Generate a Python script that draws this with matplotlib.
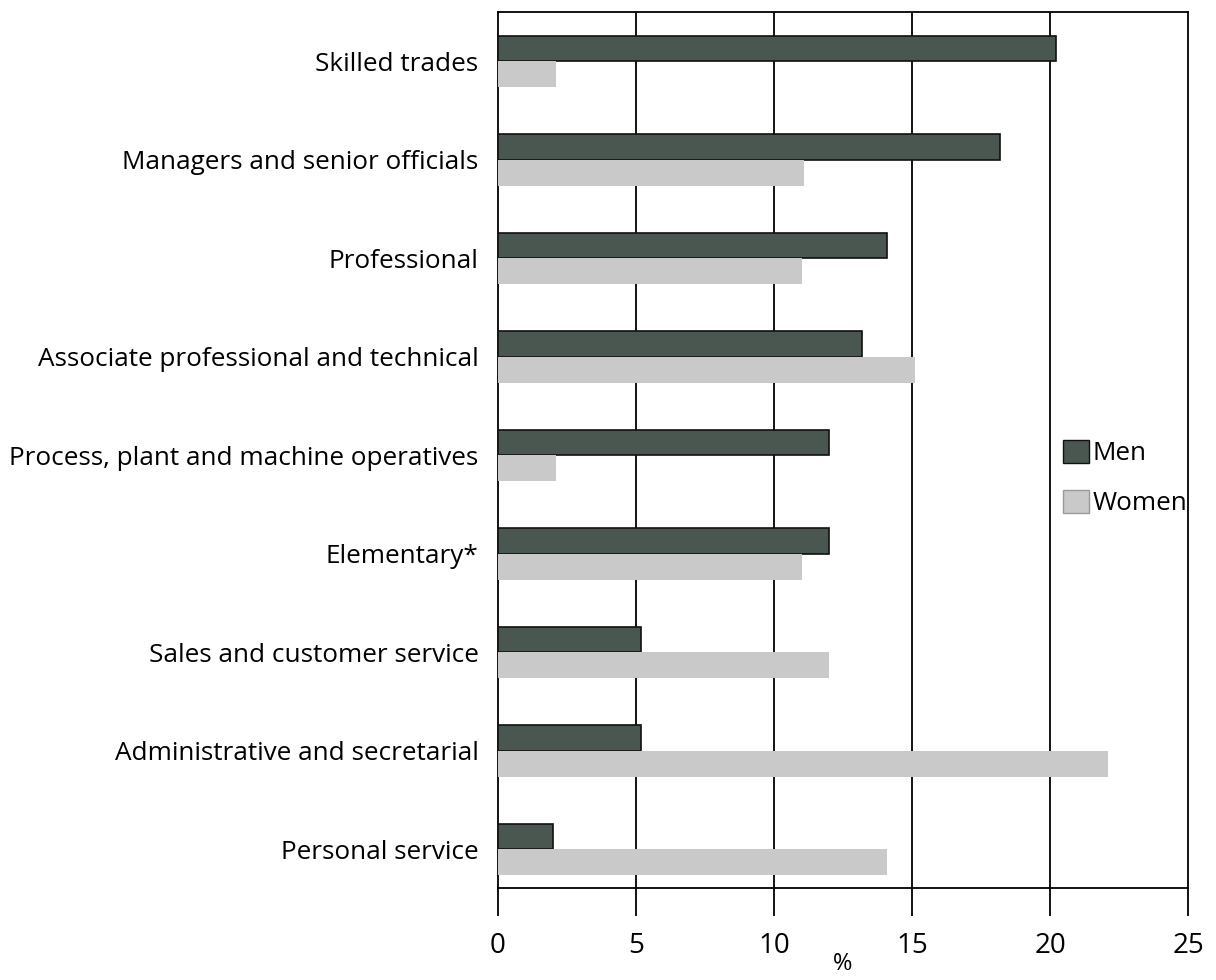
import numpy as np
import matplotlib.pyplot as plt
from matplotlib.patches import Patch

plt.rcParams['font.family'] = ['Open Sans', 'DejaVu Sans']

# data
categories = ['Skilled trades', 'Managers and senior officials', 'Professional',
              'Associate professional and technical', 'Process, plant and machine operatives',
              'Elementary*', 'Sales and customer service', 'Administrative and secretarial',
              'Personal service']
men = [20.2, 18.2, 14.1, 13.2, 12.0, 12.0, 5.2, 5.2, 2.0]
women = [2.1, 11.1, 11.0, 15.1, 2.1, 11.0, 12.0, 22.1, 14.1]
xticks = [0, 5, 10, 15, 20, 25]

men_color = '#4a5750'
women_color = '#c9c9c9'

fig = plt.figure(figsize=(12.16, 9.8), dpi=100)
ax = fig.add_axes([0.4095, 0.094, 0.5675, 0.8935])

y = np.arange(len(categories))
h = 0.26
ax.barh(y - h / 2, men, height=h, color=men_color, edgecolor='#111111', linewidth=1.2, zorder=3)
ax.barh(y + h / 2, women, height=h, color=women_color, edgecolor='none', zorder=3)

ax.set_xlim(0, 25)
ax.set_ylim(8.39, -0.5)
ax.set_yticks(y)
ax.set_yticklabels(categories, fontsize=18.8)
ax.tick_params(axis='y', length=0, pad=14)
ax.set_xticks(xticks)
ax.set_xticklabels([str(t) for t in xticks], fontsize=20)
ax.tick_params(axis='x', direction='out', length=20, width=1.3, pad=12)
ax.set_xlabel('%', fontsize=17, labelpad=-6)

for t in xticks[1:-1]:
    ax.axvline(t, color='black', linewidth=1.3, zorder=1)
for s in ax.spines.values():
    s.set_linewidth(1.3)

handles = [Patch(facecolor=men_color, edgecolor='#111111', label='Men'),
           Patch(facecolor=women_color, edgecolor='#999999', label='Women')]
ax.legend(handles=handles, loc='center left', bbox_to_anchor=(0.792, 0.468),
          frameon=False, fontsize=18.8, handlelength=1.0, handleheight=1.0,
          handletextpad=0.15, labelspacing=0.9, borderpad=0.2)

plt.savefig('out.png', dpi=100)
